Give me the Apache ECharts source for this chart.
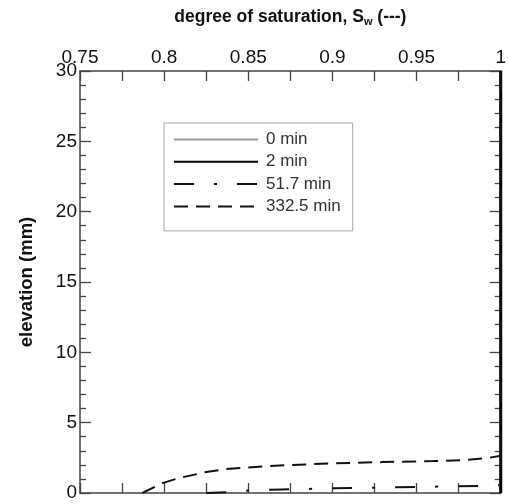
<!DOCTYPE html>
<html>
<head>
<meta charset="utf-8">
<script src="https://cdn.jsdelivr.net/npm/echarts@6/dist/echarts.min.js"></script>
<style>html,body{margin:0;padding:0;background:#fff;}#c{width:509px;height:504px;}</style>
</head>
<body>
<div id="c"></div>
<script>
const seriesNames = ['0 min', '2 min', '51.7 min', '332.5 min'];
const sw0 = [1, 1];
const el0 = [0, 30];
const sw2 = [1, 1];
const el2 = [0, 30];
const sw51 = [0.825, 0.84, 0.85, 0.87, 0.9, 0.93, 0.96, 0.99, 1.0, 1.0];
const el51 = [0, 0.07, 0.18, 0.25, 0.33, 0.39, 0.45, 0.5, 0.55, 30];
const sw332 = [0.787, 0.799, 0.809, 0.825, 0.837, 0.85, 0.862, 0.874, 0.9, 0.93, 0.96, 0.98, 0.993, 1.0, 1.0];
const el332 = [0, 0.7, 1.07, 1.49, 1.7, 1.82, 1.92, 1.99, 2.1, 2.2, 2.27, 2.35, 2.5, 2.65, 30];
const xTicks = [0.75, 0.8, 0.85, 0.9, 0.95, 1];
const yTicks = [0, 5, 10, 15, 20, 25, 30];

const zip = (a, b) => a.map((v, i) => [v, b[i]]);
const FONT = 'Liberation Sans, Arial, sans-serif';
const axisCol = '#444';

const chart = echarts.init(document.getElementById('c'), null, {renderer: 'canvas'});

function xAx(pos, labels) {
  return {
    type: 'value', position: pos,
    min: xTicks[0], max: xTicks[xTicks.length - 1], interval: 0.05,
    axisLine: {show: true, onZero: false, lineStyle: {color: axisCol, width: 1.5}},
    axisTick: {show: true, inside: true, length: 10, lineStyle: {color: axisCol, width: 1.3}},
    minorTick: {show: true, splitNumber: 2, length: 10, lineStyle: {color: axisCol, width: 1.3}},
    axisLabel: {show: labels, fontSize: 19, color: '#111', fontFamily: FONT, margin: 4,
      formatter: v => String(+v.toFixed(3))},
    splitLine: {show: false}, minorSplitLine: {show: false}
  };
}
function yAx(pos, labels) {
  return {
    type: 'value', position: pos,
    min: yTicks[0], max: yTicks[yTicks.length - 1], interval: 5,
    axisLine: {show: true, onZero: false, lineStyle: {color: axisCol, width: 1.5}},
    axisTick: {show: true, inside: true, length: 11, lineStyle: {color: axisCol, width: 1.3}},
    minorTick: {show: true, splitNumber: 5, length: 6, lineStyle: {color: axisCol, width: 1.3}},
    axisLabel: {show: labels, fontSize: 19, color: '#111', fontFamily: FONT, margin: 3,
      padding: [0, 0, 6, 0]},
    splitLine: {show: false}, minorSplitLine: {show: false}
  };
}

const xTop = xAx('top', true);
xTop.name = '{a|degree of saturation, S}{s|w}{a| (---)}';
xTop.nameLocation = 'middle';
xTop.nameGap = 44;
xTop.nameTextStyle = {
  rich: {
    a: {fontSize: 17.5, fontWeight: 'bold', color: '#111', fontFamily: FONT},
    s: {fontSize: 11, fontWeight: 'bold', color: '#111', fontFamily: FONT, padding: [9, 0, 0, 0]}
  }
};
const yLeft = yAx('left', true);
yLeft.name = 'elevation (mm)';
yLeft.nameLocation = 'middle';
yLeft.nameGap = 44;
yLeft.nameTextStyle = {fontSize: 18.5, fontWeight: 'bold', color: '#111', fontFamily: FONT};

const option = {
  animation: false,
  backgroundColor: '#fff',
  grid: {left: 80, right: 7, top: 71, bottom: 11},
  xAxis: [xTop, xAx('bottom', false)],
  yAxis: [yLeft, yAx('right', false)],
  legend: {
    left: 164, top: 123, orient: 'vertical',
    padding: [8, 12, 16, 9],
    itemWidth: 84, itemHeight: 18, itemGap: 5.3,
    borderColor: '#aaa', borderWidth: 1,
    itemStyle: {opacity: 0},
    textStyle: {fontSize: 17, color: '#333', fontFamily: FONT, padding: [0, 0, 0, 3]},
    data: seriesNames
  },
  series: [
    {name: seriesNames[0], type: 'line', data: zip(sw0, el0), symbol: 'none', clip: false,
      lineStyle: {color: '#999', width: 2}, itemStyle: {color: '#999'}},
    {name: seriesNames[1], type: 'line', data: zip(sw2, el2), symbol: 'none', clip: false,
      lineStyle: {color: '#000', width: 3}, itemStyle: {color: '#000'}},
    {name: seriesNames[2], type: 'line', data: zip(sw51, el51), symbol: 'none', clip: false,
      lineStyle: {color: '#111', width: 2, type: [20, 20, 3, 20]}, itemStyle: {color: '#111'}},
    {name: seriesNames[3], type: 'line', data: zip(sw332, el332), symbol: 'none', clip: false,
      lineStyle: {color: '#111', width: 2, type: [14, 8]}, itemStyle: {color: '#111'}}
  ]
};
chart.setOption(option);
</script>
</body>
</html>
